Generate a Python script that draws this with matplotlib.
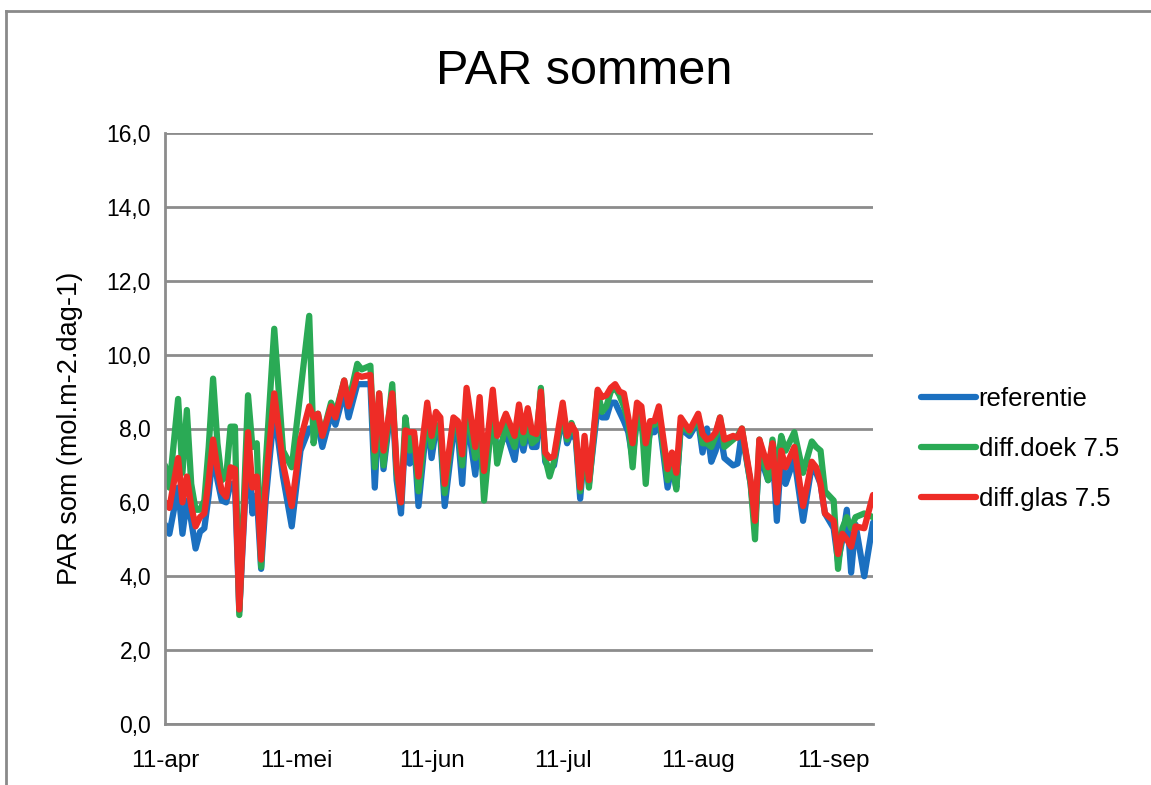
import matplotlib
matplotlib.use("Agg")
import matplotlib.pyplot as plt
import numpy as np
from matplotlib.lines import Line2D

# ---- data (day offset from 11-apr, values in mol.m-2.dag-1) ----
day = [0, 1, 3, 4, 5, 6, 7, 8, 9, 10, 11, 12, 13, 14, 15, 16, 17, 19, 20, 21,
       22, 23, 25, 27, 29, 31, 33, 34, 35, 36, 38, 39, 41, 42, 44, 45, 47, 48,
       49, 50, 52, 53, 54, 55, 56, 57, 58, 60, 61, 62, 63, 64, 66, 67, 68, 69,
       71, 72, 73, 75, 76, 78, 80, 81, 82, 83, 84, 85, 86, 87, 88, 89, 91, 92,
       93, 94, 95, 96, 97, 99, 100, 101, 102, 103, 104, 105, 106, 107, 108,
       109, 110, 111, 112, 113, 115, 116, 117, 118, 120, 122, 123, 124, 125,
       126, 127, 128, 130, 131, 132, 134, 135, 136, 138, 139, 140, 141, 142,
       144, 146, 148, 149, 150, 151, 153, 154, 155, 156, 157, 158, 160, 162]

referentie = [5.4, 5.15, 6.4, 5.15, 6.05, 5.5, 4.75, 5.2, 5.3, 6.2, 7.4, 6.6, 6.05,
              6.0, 6.5, 6.5, 3.05, 7.6, 5.7, 6.2, 4.2, 6.0, 8.5, 6.7, 5.35, 7.4,
              8.0, 8.0, 8.1, 7.5, 8.4, 8.1, 9.0, 8.3, 9.2, 9.2, 9.2, 6.4, 8.7,
              6.9, 8.9, 6.6, 5.7, 7.9, 7.05, 7.7, 5.9, 8.3, 7.2, 8.0, 7.8, 5.9,
              7.9, 7.9, 6.5, 8.4, 6.75, 8.0, 6.5, 8.4, 7.3, 7.9, 7.15, 8.0, 7.4,
              8.0, 7.5, 7.5, 8.8, 7.1, 6.9, 7.0, 8.4, 7.6, 7.9, 7.7, 6.1, 7.5,
              6.5, 8.6, 8.3, 8.3, 8.7, 8.7, 8.45, 8.2, 7.9, 7.2, 8.3, 8.2, 7.3,
              7.9, 7.9, 8.3, 6.4, 7.0, 6.4, 8.0, 7.8, 8.2, 7.35, 8.0, 7.1, 7.4,
              7.9, 7.2, 7.0, 7.05, 7.9, 6.5, 5.35, 7.3, 6.6, 7.4, 5.5, 7.3, 6.5,
              7.2, 5.5, 7.0, 6.8, 6.5, 5.7, 5.3, 4.4, 5.0, 5.8, 4.1, 5.4, 4.0, 5.45]

diff_doek = [7.0, 6.4, 8.8, 6.8, 8.5, 6.5, 5.8, 5.8, 6.05, 7.5, 9.35, 7.6, 6.6,
             6.7, 8.05, 8.05, 2.95, 8.9, 7.5, 7.6, 4.25, 6.95, 10.7, 7.4, 6.95,
             9.0, 11.05, 7.6, 8.4, 7.8, 8.7, 8.4, 9.3, 8.7, 9.75, 9.6, 9.7, 6.95,
             8.95, 7.0, 9.2, 6.8, 6.0, 8.3, 7.4, 7.8, 6.3, 8.4, 7.5, 8.1, 7.9,
             6.25, 8.2, 8.1, 7.0, 8.6, 7.2, 8.3, 6.05, 8.6, 7.05, 8.1, 7.5, 8.3,
             7.6, 8.2, 7.6, 7.7, 9.1, 7.2, 6.7, 7.1, 8.5, 7.7, 8.15, 7.8, 6.3,
             7.6, 6.4, 9.0, 8.45, 8.6, 9.0, 9.1, 8.9, 8.6, 8.2, 6.95, 8.5, 8.4,
             6.5, 8.1, 8.1, 8.45, 6.6, 7.1, 6.35, 8.1, 7.9, 8.3, 7.6, 7.6, 7.5,
             7.8, 8.3, 7.5, 7.7, 7.8, 8.0, 6.5, 5.0, 7.7, 6.6, 7.7, 6.8, 7.8,
             7.4, 7.9, 6.8, 7.65, 7.5, 7.4, 6.3, 6.05, 4.2, 5.3, 5.6, 5.3, 5.6,
             5.7, 5.6]

diff_glas = [6.0, 5.85, 7.2, 6.0, 6.7, 5.9, 5.35, 5.6, 5.7, 6.6, 7.7, 6.9, 6.3,
             6.15, 6.95, 6.9, 3.1, 7.9, 6.4, 6.7, 4.45, 6.4, 8.95, 7.05, 5.9,
             7.7, 8.6, 8.3, 8.4, 7.8, 8.6, 8.3, 9.3, 8.6, 9.45, 9.4, 9.45, 7.4,
             8.95, 7.4, 8.95, 7.0, 6.0, 7.95, 7.9, 7.9, 6.7, 8.7, 7.8, 8.45, 8.3,
             6.5, 8.3, 8.2, 7.3, 9.1, 7.5, 8.85, 6.85, 9.05, 7.8, 8.4, 7.8, 8.65,
             7.9, 8.55, 7.9, 7.85, 9.0, 7.35, 7.2, 7.25, 8.7, 7.8, 8.1, 7.9, 6.4,
             7.8, 6.6, 9.05, 8.85, 8.9, 9.1, 9.2, 9.0, 8.95, 8.3, 7.6, 8.7, 8.6,
             7.6, 8.2, 8.2, 8.6, 6.9, 7.35, 6.8, 8.3, 7.95, 8.4, 7.85, 7.7, 7.75,
             7.9, 8.3, 7.7, 7.8, 7.75, 8.0, 6.6, 5.5, 7.7, 6.95, 7.6, 6.0, 7.4,
             6.95, 7.5, 5.9, 7.1, 6.95, 6.5, 5.7, 5.5, 4.6, 5.15, 5.0, 4.8, 5.35,
             5.3, 6.2]

series_names = ["referentie", "diff.doek 7.5", "diff.glas 7.5"]
tick_days = [0, 30, 61, 91, 122, 153]
tick_labels = ["11-apr", "11-mei", "11-jun", "11-jul", "11-aug", "11-sep"]
y_ticks = [0, 2, 4, 6, 8, 10, 12, 14, 16]

colors = ["#1b70c0", "#2aaa55", "#ee2c26"]

plt.rcParams['font.family'] = ['Liberation Sans', 'DejaVu Sans']

fig = plt.figure(figsize=(11.51, 7.85), dpi=100)
fig.patch.set_facecolor("white")

# outer frame lines (top and left)
fig.add_artist(Line2D([6/1151, 1.0], [1 - 11/785, 1 - 11/785], color="#8a8a8a", lw=2,
                      transform=fig.transFigure))
fig.add_artist(Line2D([6/1151, 6/1151], [0.0, 1 - 11/785], color="#8a8a8a", lw=2,
                      transform=fig.transFigure))

ax = fig.add_axes([165/1151, 1 - 724/785, (873 - 165)/1151, (724 - 133)/785])

for vals, name, c in zip([referentie, diff_doek, diff_glas], series_names, colors):
    ax.plot(day, vals, color=c, lw=4.5, label=name, solid_joinstyle="round",
            solid_capstyle="round")

ax.set_xlim(0, 162)
ax.set_ylim(0, 16)
ax.set_yticks(y_ticks)
ax.set_yticklabels([f"{v:.1f}".replace(".", ",") for v in y_ticks], fontsize=16.5)
ax.set_xticks(tick_days)
ax.set_xticklabels(tick_labels, fontsize=17.5)
ax.tick_params(axis="y", length=0, pad=10)
ax.tick_params(axis="x", length=0, pad=19)

ax.grid(axis="y", color="#8c8c8c", lw=2)
ax.set_axisbelow(True)
for s in ["top", "right"]:
    ax.spines[s].set_visible(False)
for s in ["left", "bottom"]:
    ax.spines[s].set_color("#8c8c8c")
    ax.spines[s].set_linewidth(2)

ax.set_ylabel("PAR som (mol.m-2.dag-1)", fontsize=19.5, labelpad=17)

fig.text(584/1151, 1 - 71/785, "PAR sommen", fontsize=35, ha="center", va="center")

leg = ax.legend(loc="center left", bbox_to_anchor=(1.035, 0.465), frameon=False,
                fontsize=18.5, handlelength=2.15, handletextpad=0.1, labelspacing=1.0)

fig.savefig("out.png", dpi=100, facecolor="white")
